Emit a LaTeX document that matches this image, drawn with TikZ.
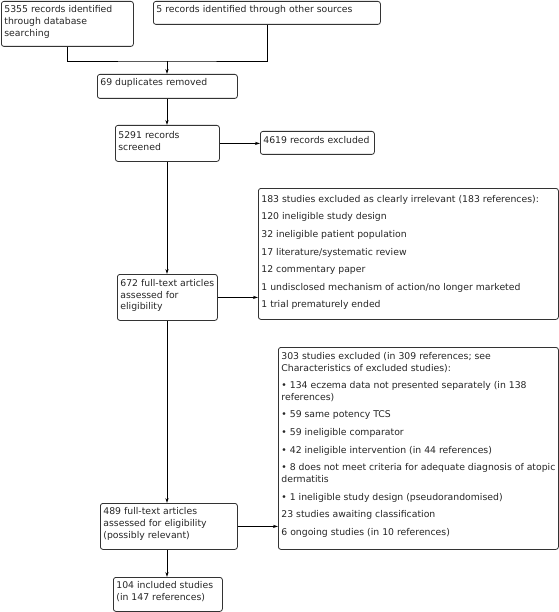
\documentclass[tikz,border=0pt]{standalone}
\usepackage{fontspec}
\setmainfont{DejaVu Sans}
\usetikzlibrary{arrows.meta}
\newcommand{\boxtext}[4]{\parbox[c][#2][t]{#1}{\raggedright\vspace*{#3}\setlength{\parskip}{5.9bp}#4}}
\tikzset{
  bx/.style={draw=black!80, line width=0.8bp, rounded corners=2.5bp, anchor=north west,
    inner xsep=3bp, inner ysep=0pt, fill=white,
    font=\fontsize{9.3bp}{11.7bp}\selectfont, text=black!85},
  ln/.style={draw=black, line width=0.8bp},
  arr/.style={ln, -{Stealth[length=5bp,width=3.2bp]}}
}
\begin{document}
\begin{tikzpicture}[x=1bp,y=-1bp]
\useasboundingbox (0,0) rectangle (559,612);
\node[bx] (b1) at (1,1) {\boxtext{126bp}{45bp}{-1.5bp}{5355 records identified\\through database\\searching}};
\node[bx] (b2) at (153,1) {\boxtext{221bp}{23bp}{-1.5bp}{5 records identified through other sources}};
\node[bx] (b3) at (97,74) {\boxtext{134bp}{24bp}{-1.5bp}{69 duplicates removed}};
\node[bx] (b4) at (115,125) {\boxtext{98bp}{36bp}{0bp}{5291 records\\screened}};
\node[bx] (b5) at (260,131) {\boxtext{108bp}{23bp}{-1bp}{4619 records excluded}};
\node[bx] (b6) at (117,274) {\boxtext{94bp}{46bp}{-1bp}{672 full-text articles\\assessed for\\eligibility}};
\node[bx] (b7) at (258,188) {\boxtext{294bp}{131bp}{1bp}{183 studies excluded as clearly irrelevant (183 references):\par
120 ineligible study design\par
32 ineligible patient population\par
17 literature/systematic review\par
12 commentary paper\par
1 undisclosed mechanism of action/no longer marketed\par
1 trial prematurely ended}};
\node[bx] (b8) at (278,347) {\boxtext{274bp}{202bp}{-1bp}{303 studies excluded (in 309 references; see\\Characteristics of excluded studies):\par
• 134 eczema data not presented separately (in 138\\references)\par
• 59 same potency TCS\par
• 59 ineligible comparator\par
• 42 ineligible intervention (in 44 references)\par
• 8 does not meet criteria for adequate diagnosis of atopic\\dermatitis\par
• 1 ineligible study design (pseudorandomised)\par
23 studies awaiting classification\par
6 ongoing studies (in 10 references)}};
\node[bx] (b9) at (100,503) {\boxtext{131bp}{46bp}{-1.5bp}{489 full-text articles\\assessed for eligibility\\(possibly relevant)}};
\node[bx] (b10) at (113,577) {\boxtext{103bp}{34bp}{-2bp}{104 included studies\\(in 147 references)}};
\coordinate (j) at (167,61);
\draw[ln] (b1.south) |- (j) -| (b2.south);
\draw[arr] (j) -- (b3.north -| j);
\draw[arr] (b3.south -| j) -- (b4.north -| j);
\draw[arr] (b4.east) -- (b5.west |- b4.east);
\draw[arr] (b4.south -| j) -- (b6.north -| j);
\draw[arr] (b6.east) -- (b7.west |- b6.east);
\draw[arr] (b6.south -| j) -- (b9.north -| j);
\draw[arr] (b9.east) -- (b8.west |- b9.east);
\draw[arr] (b9.south -| j) -- (b10.north -| j);
\end{tikzpicture}
\end{document}
